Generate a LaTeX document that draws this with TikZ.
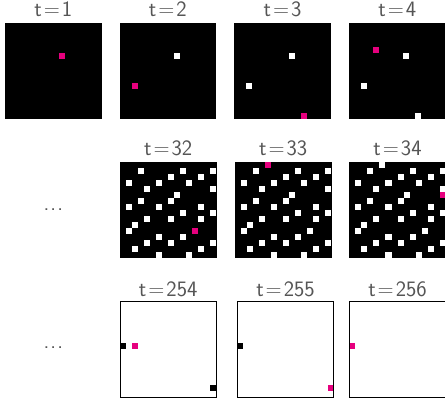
\documentclass[tikz,border=0pt]{standalone}
\definecolor{hot}{RGB}{230,0,126}
\definecolor{lbl}{RGB}{85,85,85}
\tikzset{
  x=1pt, y=-1pt,
  ttl/.style={anchor=base, inner sep=0pt, text=lbl, font=\fontsize{22}{26}\selectfont\sffamily},
  dots/.style={inner sep=0pt, text=lbl, font=\fontsize{22}{26}\selectfont\sffamily},
  frm/.style={draw=black, line width=0.8pt}
}
\newcommand\cs{6.03}
\newcommand\ps{96.5}
\newcommand\eqs{\kern0.09em=\kern0.09em}
% \cellat{left}{top}{col}{row}{colour}
\newcommand\cellat[5]{\fill[#5] ({#1+#3*\cs},{#2+#4*\cs}) rectangle ++(\cs,\cs);}
\newcommand\basecells{3/1,10/1,15/1,8/2,13/2,1/3,6/3,11/3,4/4,15/4,9/5,3/6,8/6,1/7,6/7,13/7,10/8,15/8,4/9,8/9,13/9,2/10,1/11,6/12,10/12,4/13,8/13,15/13,2/14,13/14,6/15,11/15}
\begin{document}
\begin{tikzpicture}
\useasboundingbox (0,0) rectangle (445,404);
\clip (0,0) rectangle (445,404);
\fill[white] (0,0) rectangle (445,404);

% ---------- row 1 ----------
\fill[black] (5,22.7) rectangle ++(\ps,\ps);
\cellat{5}{22.7}{9}{5}{hot}
\node[ttl] (t1) at ({5+\ps/2},16.2) {t\eqs1};

\fill[black] (119.5,22.7) rectangle ++(\ps,\ps);
\cellat{119.5}{22.7}{9}{5}{white}
\cellat{119.5}{22.7}{2}{10}{hot}
\node[ttl] (t2) at ({119.5+\ps/2},16.2) {t\eqs2};

\fill[black] (234.3,22.7) rectangle ++(\ps,\ps);
\cellat{234.3}{22.7}{9}{5}{white}
\cellat{234.3}{22.7}{2}{10}{white}
\cellat{234.3}{22.7}{11}{15}{hot}
\node[ttl] (t3) at ({234.3+\ps/2},16.2) {t\eqs3};

\fill[black] (349,22.7) rectangle ++(\ps,\ps);
\cellat{349}{22.7}{9}{5}{white}
\cellat{349}{22.7}{2}{10}{white}
\cellat{349}{22.7}{11}{15}{white}
\cellat{349}{22.7}{4}{4}{hot}
\node[ttl] (t4) at ({349+\ps/2},16.2) {t\eqs4};

% ---------- row 2 ----------
\node[dots] (d1) at (53.3,209.3) {.\kern0.05em.\kern0.05em.};

\fill[black] (120,161.7) rectangle ++(\ps,\ps);
\foreach \c/\r in \basecells {\cellat{120}{161.7}{\c}{\r}{white}}
\cellat{120}{161.7}{12}{11}{hot}
\node[ttl] (t32) at ({120+\ps/2},155) {t\eqs32};

\fill[black] (235,161.7) rectangle ++(\ps,\ps);
\foreach \c/\r in \basecells {\cellat{235}{161.7}{\c}{\r}{white}}
\cellat{235}{161.7}{12}{11}{white}
\cellat{235}{161.7}{5}{0}{hot}
\node[ttl] (t33) at ({235+\ps/2},155) {t\eqs33};

\fill[black] (349.3,161.7) rectangle ++(\ps,\ps);
\foreach \c/\r in \basecells {\cellat{349.3}{161.7}{\c}{\r}{white}}
\cellat{349.3}{161.7}{12}{11}{white}
\cellat{349.3}{161.7}{5}{0}{white}
\cellat{349.3}{161.7}{15}{5}{hot}
\node[ttl] (t34) at ({349.3+\ps/2},155) {t\eqs34};

% ---------- row 3 ----------
\node[dots] (d2) at (53.3,347.3) {.\kern0.05em.\kern0.05em.};

\cellat{120}{301}{0}{7}{black}
\cellat{120}{301}{15}{14}{black}
\cellat{120}{301}{2}{7}{hot}
\draw[frm] (120,301) rectangle ++(\ps,\ps);
\node[ttl] (t254) at ({120+\ps/2},296) {t\eqs254};

\cellat{237.3}{301}{0}{7}{black}
\cellat{237.3}{301}{15}{14}{hot}
\draw[frm] (237.3,301) rectangle ++(\ps,\ps);
\node[ttl] (t255) at ({237.3+\ps/2},296) {t\eqs255};

\cellat{349.3}{301}{0}{7}{hot}
\draw[frm] (349.3,301) rectangle ++(\ps,\ps);
\node[ttl] (t256) at ({349.3+\ps/2},296) {t\eqs256};
\end{tikzpicture}
\end{document}
